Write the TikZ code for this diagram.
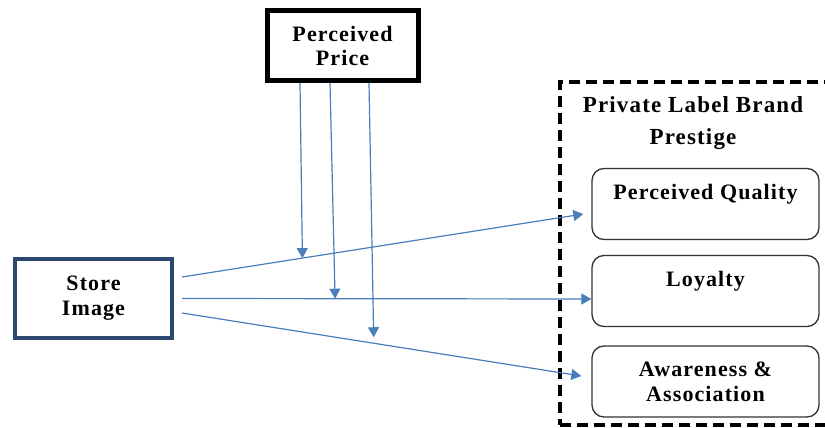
\documentclass[tikz,border=0pt]{standalone}
\usepackage{fontspec}
\setmainfont{Liberation Serif}[LetterSpace=5]
\usetikzlibrary{
    arrows.meta,
    calc,
    positioning
}
\definecolor{flowblue}{HTML}{4A7EBB}
\definecolor{storenavy}{HTML}{2C4770}

\begin{document}
\begin{tikzpicture}[
    x=1pt,
    y=-1pt,
    font=\fontsize{22}{24}\selectfont\bfseries,
    pricebox/.style = {
        draw,
        rectangle,
        line width=5pt,
        align=center,
        minimum width=151pt,
        minimum height=70pt
    },
    storebox/.style = {
        draw=storenavy,
        rectangle,
        line width=4pt,
        align=center,
        font=\fontsize{22}{25}\selectfont\bfseries,
        minimum width=157pt,
        minimum height=79pt
    },
    prestigebox/.style = {
        draw,
        rectangle,
        line width=3.5pt,
        dash pattern=on 11pt off 6pt,
        minimum width=272pt,
        minimum height=343pt
    },
    dimtext/.style = {
        anchor=north,
        yshift=-14pt,
        align=center,
        inner sep=2pt,
        font=\fontsize{22}{25}\selectfont\bfseries
    },
    dimbox/.style = {
        draw=black!80,
        rectangle,
        rounded corners=12pt,
        line width=1.3pt,
        minimum width=227pt,
        minimum height=71pt,
        label={[dimtext]north:#1}
    },
    flow/.style = {
        draw=flowblue,
        line width=1.2pt,
        -{Triangle[length=10pt,width=11pt]}
    },
]
    \clip (0,0) rectangle (825,428);

    % Outer blocks
    \node [pricebox] (price) at (342.5,45.5) {Perceived\\ Price};
    \node [storebox] (store) at (93.5,298.5) {Store\\ Image};

    % Dependent side
    \node [prestigebox] (prestige) at (696,253.5) {};
    \node [align=center, inner sep=2pt, font=\fontsize{23}{32}\selectfont\bfseries]
        (prestige_title) at (693,123) {Private Label Brand\\ Prestige};

    \node [dimbox={Perceived Quality}] (quality) at (705.5,204) {};
    \node [dimbox={Loyalty}] (loyalty) at (705.5,291) {};
    \node [dimbox={Awareness \&\\ Association}] (aware) at (705.5,381.5) {};

    % Connector end points
    \coordinate (store_out1) at ([xshift=8pt,yshift=21.5pt]store.east);
    \coordinate (store_out2) at ([xshift=8pt]store.east);
    \coordinate (store_out3) at ([xshift=8pt,yshift=-14.5pt]store.east);
    \coordinate (quality_in) at ([xshift=-8pt,yshift=-10pt]quality.west);
    \coordinate (loyalty_in) at ([yshift=-8pt]loyalty.west);
    \coordinate (aware_in) at ([xshift=-10pt,yshift=5.5pt]aware.west);

    \coordinate (price_out1) at ([xshift=-42.5pt]price.south);
    \coordinate (price_out2) at ([xshift=-12.5pt]price.south);
    \coordinate (price_out3) at ([xshift=26.5pt]price.south);

    \draw [flow] (store_out1) -- (quality_in);
    \draw [flow] (store_out2) -- (loyalty_in);
    \draw [flow] (store_out3) -- (aware_in);

    % Moderating arrows
    \draw [flow] (price_out1) -- ($(store_out1)!0.3!(quality_in)$);
    \draw [flow] (price_out2) -- ($(store_out2)!0.374!(loyalty_in)$);
    \draw [flow] (price_out3) -- ($(store_out3)!0.48!(aware_in) + (0,-6)$);
\end{tikzpicture}
\end{document}
